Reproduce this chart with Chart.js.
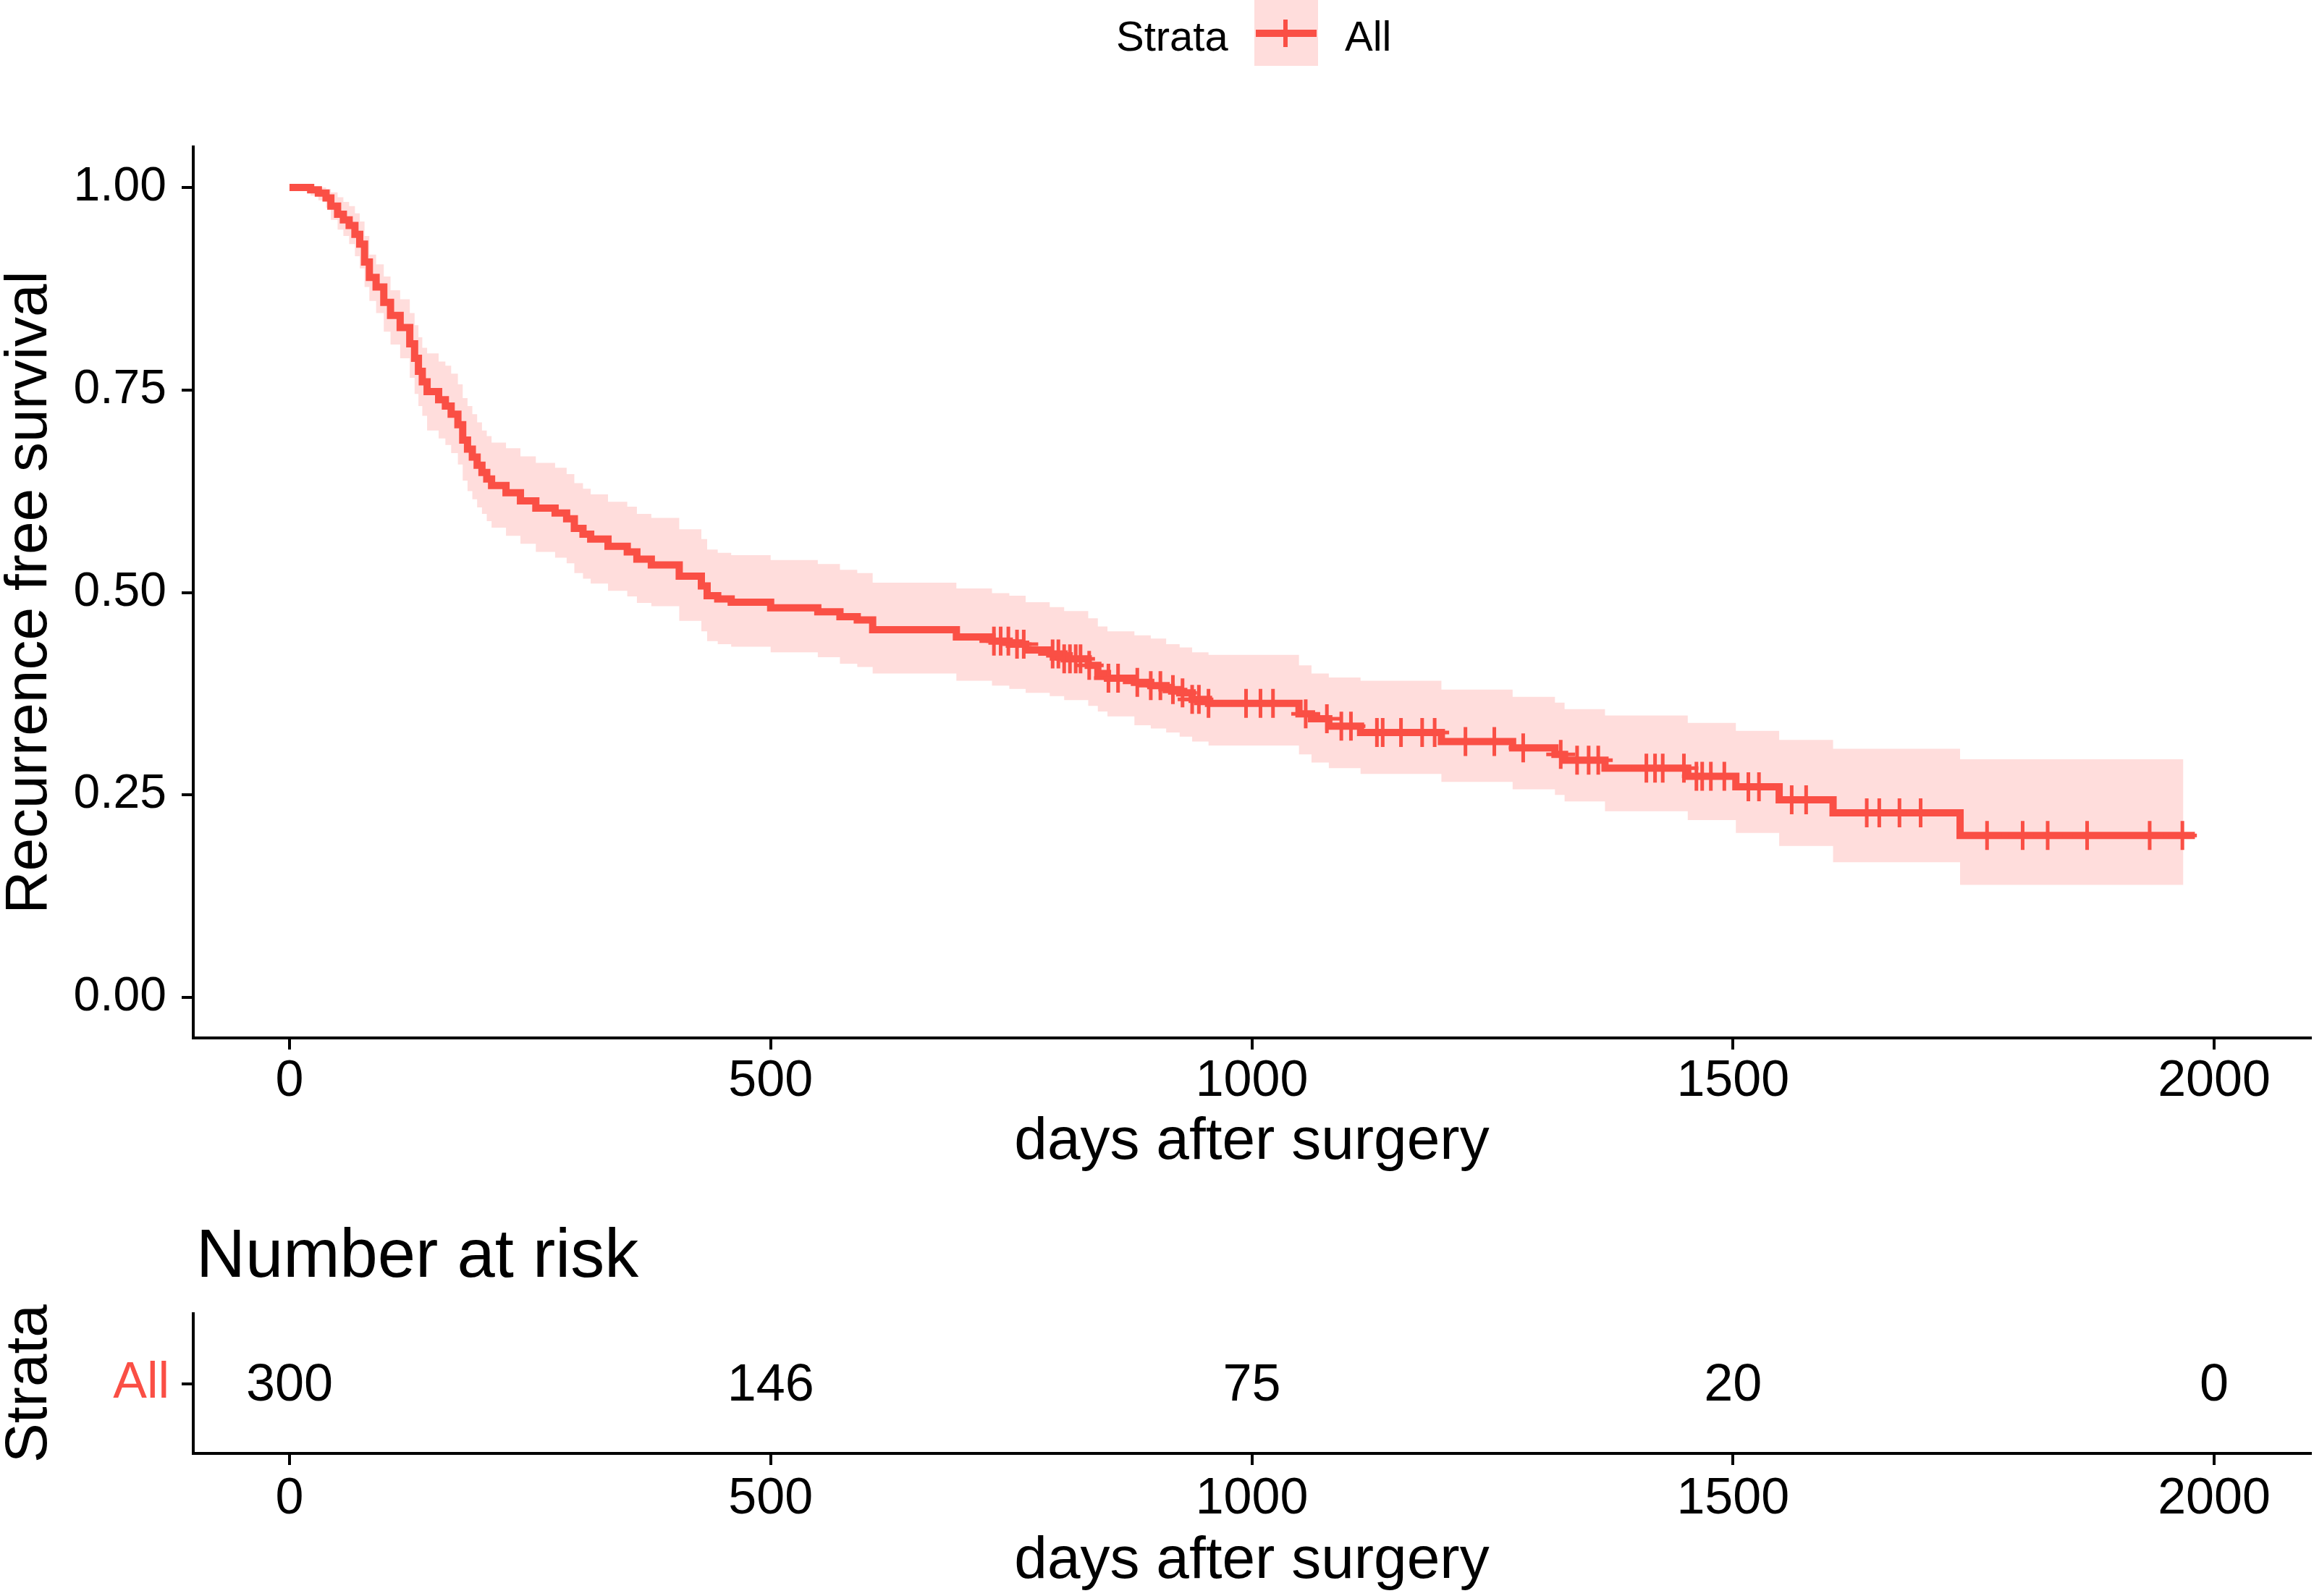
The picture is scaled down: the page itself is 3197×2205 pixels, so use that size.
<!DOCTYPE html>
<html>
<head>
<meta charset="utf-8">
<script src="https://cdn.jsdelivr.net/npm/chart.js@4.4.1/dist/chart.umd.min.js"></script>
<style>
  html, body { margin: 0; padding: 0; background: #fff; }
  #wrap { position: relative; width: 3197px; height: 2205px; overflow: hidden; }
  canvas { position: absolute; left: 0; }
</style>
</head>
<body>
<div id="wrap">
  <canvas id="kmChart" width="3197" height="1640" style="top:0;width:3197px;height:1640px"></canvas>
  <canvas id="riskChart" width="3197" height="565" style="top:1640px;width:3197px;height:565px"></canvas>
</div>
<script>
// Kaplan-Meier estimate (days, survival)
const kmTimes = [
  0, 22, 30, 38, 43, 50, 56, 62, 68, 73,
  78, 83, 90, 98, 105, 115, 125, 130, 134, 138,
  143, 155, 162, 168, 175, 180, 185, 190, 195, 200,
  205, 210, 225, 240, 256, 276, 288, 296, 305, 313,
  331, 351, 361, 376, 405, 428, 434, 445, 459, 500,
  549, 572, 590, 606, 693, 730, 748, 765, 790, 805,
  830, 840, 850, 878, 895, 911, 925, 938, 955, 1049,
  1062, 1080, 1113, 1197, 1271, 1315, 1325, 1367, 1453, 1503,
  1548, 1604, 1736, 1968, 1980
];
const kmSurv = [
  1.000, 0.997, 0.993, 0.987, 0.977, 0.967, 0.960, 0.953, 0.942, 0.930,
  0.908, 0.889, 0.877, 0.858, 0.842, 0.827, 0.807, 0.789, 0.773, 0.760,
  0.748, 0.738, 0.730, 0.720, 0.707, 0.688, 0.677, 0.667, 0.657, 0.648,
  0.640, 0.632, 0.623, 0.613, 0.604, 0.598, 0.591, 0.579, 0.572, 0.566,
  0.557, 0.550, 0.541, 0.534, 0.520, 0.508, 0.496, 0.492, 0.488, 0.481,
  0.476, 0.470, 0.466, 0.454, 0.445, 0.440, 0.436, 0.429, 0.424, 0.418,
  0.410, 0.400, 0.394, 0.389, 0.385, 0.380, 0.376, 0.368, 0.363, 0.350,
  0.344, 0.335, 0.327, 0.316, 0.308, 0.300, 0.293, 0.283, 0.273, 0.260,
  0.244, 0.228, 0.200, 0.200, 0.200
];
const ciUpper = [
  1.000, 1.000, 1.000, 0.998, 0.994, 0.988, 0.982, 0.977, 0.968, 0.958,
  0.940, 0.917, 0.905, 0.890, 0.873, 0.862, 0.845, 0.830, 0.815, 0.802,
  0.795, 0.785, 0.780, 0.770, 0.757, 0.740, 0.730, 0.720, 0.710, 0.700,
  0.693, 0.685, 0.678, 0.668, 0.660, 0.654, 0.646, 0.635, 0.628, 0.621,
  0.612, 0.606, 0.597, 0.592, 0.578, 0.566, 0.553, 0.549, 0.546, 0.540,
  0.535, 0.528, 0.524, 0.512, 0.505, 0.499, 0.496, 0.488, 0.482, 0.477,
  0.468, 0.458, 0.452, 0.447, 0.443, 0.436, 0.432, 0.426, 0.423, 0.410,
  0.400, 0.395, 0.391, 0.380, 0.371, 0.364, 0.356, 0.348, 0.339, 0.329,
  0.318, 0.307, 0.294, 0.294, null
];
const ciLower = [
  1.000, 0.990, 0.984, 0.975, 0.960, 0.948, 0.940, 0.930, 0.915, 0.900,
  0.877, 0.860, 0.845, 0.822, 0.806, 0.789, 0.765, 0.745, 0.730, 0.718,
  0.700, 0.690, 0.682, 0.672, 0.658, 0.638, 0.625, 0.615, 0.605, 0.597,
  0.588, 0.580, 0.570, 0.560, 0.550, 0.543, 0.536, 0.524, 0.517, 0.511,
  0.502, 0.495, 0.487, 0.483, 0.465, 0.452, 0.440, 0.436, 0.433, 0.426,
  0.420, 0.412, 0.408, 0.400, 0.391, 0.385, 0.381, 0.376, 0.372, 0.367,
  0.360, 0.353, 0.347, 0.336, 0.332, 0.327, 0.322, 0.316, 0.311, 0.300,
  0.290, 0.283, 0.276, 0.266, 0.257, 0.250, 0.242, 0.230, 0.219, 0.203,
  0.187, 0.167, 0.139, 0.139, null
];
// censored observations (days)
const censorTimes = [
  732, 739, 747, 756, 763, 793, 799, 805, 811, 817,
  822, 831, 851, 861, 881, 895, 905, 918, 928, 938,
  945, 955, 994, 1009, 1022, 1056, 1078, 1093, 1103, 1130,
  1136, 1155, 1177, 1190, 1222, 1252, 1282, 1321, 1338, 1350,
  1360, 1410, 1419, 1427, 1449, 1462, 1468, 1477, 1491, 1516,
  1527, 1561, 1576, 1639, 1652, 1673, 1695, 1764, 1801, 1827,
  1868, 1933, 1967
];
// number at risk table
const strataLabels = ['All'];
const riskTimes = [0, 500, 1000, 1500, 2000];
const riskCounts = [300, 146, 75, 20, 0];

const xTicks = [0, 500, 1000, 1500, 2000];
const yTicks = [0, 0.25, 0.5, 0.75, 1];

const FONT = '"Liberation Sans", Arial, sans-serif';
const LINE_COLOR = '#FA4F45';
const BAND_COLOR = '#FFDDDC';

// survival value in effect at time t (for placing censor marks on the curve)
function survAt(t) {
  let s = kmSurv[0];
  for (let i = 0; i < kmTimes.length; i++) {
    if (kmTimes[i] <= t) s = kmSurv[i];
    else break;
  }
  return s;
}

const pts = (xs, ys) => xs.map((x, i) => ({ x: x, y: ys[i] }));

const axisGrid = { display: true, drawOnChartArea: false, drawTicks: true, tickLength: 16, color: '#000', lineWidth: 4 };
const axisBorder = { display: true, color: '#000', width: 4 };

function xAxis(height, tickPad, titlePad) {
  return {
    type: 'linear', min: -100, max: 2100,
    afterBuildTicks: s => { s.ticks = xTicks.map(v => ({ value: v })); },
    afterFit: s => { s.height = height; s.paddingLeft = 0; s.paddingRight = 0; },
    ticks: { font: { family: FONT, size: 70 }, color: '#000', padding: tickPad, maxRotation: 0, autoSkip: false,
      callback: v => String(v) },
    grid: axisGrid,
    border: axisBorder,
    title: { display: true, text: 'days after surgery', color: '#000',
      font: { family: FONT, size: 82, lineHeight: 1 }, padding: { top: 0, bottom: titlePad } }
  };
}

// ggplot style legend at the top: "Strata  [+]  All"
const legendPlugin = {
  id: 'strataLegend',
  afterDraw(chart) {
    const ctx = chart.ctx;
    ctx.save();
    ctx.fillStyle = BAND_COLOR;
    ctx.fillRect(1733, 0, 88, 91);
    ctx.strokeStyle = LINE_COLOR;
    ctx.lineWidth = 10;
    ctx.beginPath(); ctx.moveTo(1735, 46); ctx.lineTo(1819, 46); ctx.stroke();
    ctx.lineWidth = 6;
    ctx.beginPath(); ctx.moveTo(1776, 27); ctx.lineTo(1776, 65); ctx.stroke();
    ctx.fillStyle = '#000';
    ctx.font = '58px ' + FONT;
    ctx.textBaseline = 'alphabetic';
    ctx.textAlign = 'left';
    ctx.fillText('Strata', 1542, 70);
    ctx.fillText('All', 1858, 70);
    ctx.restore();
  }
};

new Chart(document.getElementById('kmChart'), {
  type: 'line',
  data: {
    datasets: [
      { label: 'All', data: pts(kmTimes, kmSurv), stepped: true, borderColor: LINE_COLOR,
        borderWidth: 10, pointRadius: 0, fill: false, order: 1 },
      { label: 'censor', data: censorTimes.map(t => ({ x: t, y: survAt(t) })), showLine: false,
        pointStyle: 'cross', pointRadius: 20, pointBorderWidth: 5, pointBorderColor: LINE_COLOR, order: 0 },
      { label: 'upper', data: pts(kmTimes, ciUpper), stepped: true, borderWidth: 0,
        borderColor: 'rgba(0,0,0,0)', pointRadius: 0, fill: false, order: 3 },
      { label: 'lower', data: pts(kmTimes, ciLower), stepped: true, borderWidth: 0,
        borderColor: 'rgba(0,0,0,0)', pointRadius: 0, fill: '-1', backgroundColor: BAND_COLOR, order: 2 }
    ]
  },
  options: {
    responsive: false,
    devicePixelRatio: 1,
    animation: false,
    layout: { autoPadding: false, padding: { top: 203, right: 5, left: 0, bottom: 0 } },
    scales: {
      x: xAxis(206, 3, 21),
      y: {
        type: 'linear', min: -0.05, max: 1.05,
        afterBuildTicks: s => { s.ticks = yTicks.map(v => ({ value: v })); },
        afterFit: s => { s.width = 267; s.paddingTop = 0; s.paddingBottom = 0; },
        ticks: { font: { family: FONT, size: 66 }, color: '#000', padding: 21, callback: v => v.toFixed(2) },
        grid: axisGrid,
        border: axisBorder,
        title: { display: true, text: 'Recurrence free survival', color: '#000',
          font: { family: FONT, size: 82, lineHeight: 1 }, padding: 0 }
      }
    },
    plugins: { legend: { display: false }, tooltip: { enabled: false } }
  },
  plugins: [legendPlugin]
});

// numbers at risk written at their time positions, plus the table title
const riskLabelPlugin = {
  id: 'riskLabels',
  afterDatasetsDraw(chart) {
    const ctx = chart.ctx;
    const meta = chart.getDatasetMeta(0);
    ctx.save();
    ctx.fillStyle = '#000';
    ctx.font = '72px ' + FONT;
    ctx.textAlign = 'center';
    ctx.textBaseline = 'middle';
    meta.data.forEach((pt, i) => ctx.fillText(String(riskCounts[i]), pt.x, pt.y + 4));
    ctx.font = '94px ' + FONT;
    ctx.textAlign = 'left';
    ctx.textBaseline = 'alphabetic';
    ctx.fillText('Number at risk', chart.chartArea.left + 4, 124);
    ctx.restore();
  }
};

new Chart(document.getElementById('riskChart'), {
  type: 'line',
  data: {
    datasets: [
      { label: 'risk', data: riskTimes.map(t => ({ x: t, y: strataLabels[0] })), showLine: false, pointRadius: 0 }
    ]
  },
  options: {
    responsive: false,
    devicePixelRatio: 1,
    animation: false,
    layout: { autoPadding: false, padding: { top: 175, right: 5, left: 0, bottom: 0 } },
    scales: {
      x: xAxis(197, 6, 7),
      y: {
        type: 'category', labels: strataLabels, offset: true,
        afterFit: s => { s.width = 267; s.paddingTop = 0; s.paddingBottom = 0; },
        ticks: { font: { family: FONT, size: 70 }, color: LINE_COLOR, padding: 17 },
        grid: axisGrid,
        border: axisBorder,
        title: { display: true, text: 'Strata', color: '#000',
          font: { family: FONT, size: 82, lineHeight: 1 }, padding: 0 }
      }
    },
    plugins: { legend: { display: false }, tooltip: { enabled: false } }
  },
  plugins: [riskLabelPlugin]
});
</script>
</body>
</html>
